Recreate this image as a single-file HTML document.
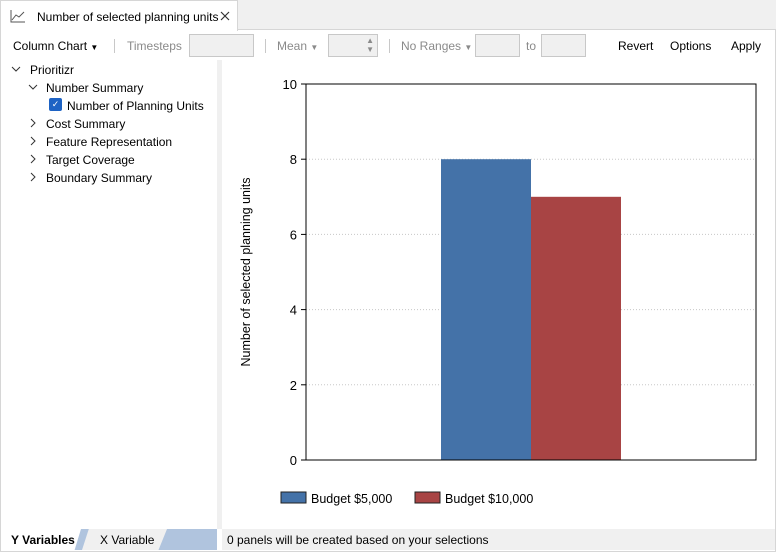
<!DOCTYPE html>
<html><head><meta charset="utf-8"><style>
*{box-sizing:border-box;margin:0;padding:0}
body{width:776px;height:552px;background:#f0f0f0;font-family:"Liberation Sans",sans-serif;font-size:12px;color:#000;position:relative;overflow:hidden}
.abs{position:absolute}
.tb{top:39px;font-size:12px}
.gray{color:#8a8a8a}
.box{border:1px solid #c8c8c8;background:#f0f0f0;height:23px;top:34px}
.sep{top:39px;width:1px;height:14px;background:#c8c8c8}
.tree{font-size:12px;position:absolute}
.chev{position:absolute}
</style></head><body>
<div class="abs" style="left:0;top:29px;width:776px;height:523px;background:#fff;border:1px solid #d6d6d6"></div>
<div class="abs" style="left:0;top:0;width:238px;height:31px;background:#fff;border:1px solid #d6d6d6;border-bottom:none">
 <svg class="abs" style="left:9px;top:8px" width="16" height="14"><polyline points="1,1 1,13 15,13" fill="none" stroke="#555"/><polyline points="2,11 6,6 9,8 14,3" fill="none" stroke="#555"/></svg>
 <span class="abs" style="left:36px;top:9px;font-size:12px">Number of selected planning units</span>
 <svg class="abs" style="left:219px;top:10px" width="10" height="10"><path d="M1,1L9,9M9,1L1,9" stroke="#333" stroke-width="1.2"/></svg>
</div>
<span class="abs tb" style="left:13px">Column Chart <span style="font-size:8px">▼</span></span>
<div class="abs sep" style="left:114px"></div>
<span class="abs tb gray" style="left:127px">Timesteps</span>
<div class="abs box" style="left:189px;width:65px"></div>
<div class="abs sep" style="left:265px"></div>
<span class="abs tb gray" style="left:277px">Mean <span style="font-size:8px">▼</span></span>
<div class="abs box" style="left:328px;width:50px"><span class="abs gray" style="right:3px;top:1px;font-size:8px;line-height:9px">▲<br>▼</span></div>
<div class="abs sep" style="left:389px"></div>
<span class="abs tb gray" style="left:401px">No Ranges <span style="font-size:8px">▼</span></span>
<div class="abs box" style="left:475px;width:45px"></div>
<span class="abs tb gray" style="left:526px">to</span>
<div class="abs box" style="left:541px;width:45px"></div>
<span class="abs tb" style="left:618px">Revert</span>
<span class="abs tb" style="left:670px">Options</span>
<span class="abs tb" style="left:731px">Apply</span>
<div class="abs" style="left:217px;top:60px;width:5px;height:469px;background:#f0f0f0"></div>
<svg class="chev" style="left:11px;top:66px" width="10" height="6"><polyline points="1,1 5,5 9,1" fill="none" stroke="#333"/></svg><span class="tree" style="left:30px;top:63px">Prioritizr</span>
<svg class="chev" style="left:28px;top:84px" width="10" height="6"><polyline points="1,1 5,5 9,1" fill="none" stroke="#333"/></svg><span class="tree" style="left:46px;top:81px">Number Summary</span>
<div class="abs" style="left:49px;top:98px;width:13px;height:13px;background:#1e63c4;border-radius:2px;color:#fff;font-size:9px;text-align:center;line-height:13px">✓</div>
<span class="tree" style="left:67px;top:99px">Number of Planning Units</span>
<svg class="chev" style="left:30px;top:118px" width="6" height="10"><polyline points="1,1 5,5 1,9" fill="none" stroke="#333"/></svg><span class="tree" style="left:46px;top:117px">Cost Summary</span>
<svg class="chev" style="left:30px;top:136px" width="6" height="10"><polyline points="1,1 5,5 1,9" fill="none" stroke="#333"/></svg><span class="tree" style="left:46px;top:135px">Feature Representation</span>
<svg class="chev" style="left:30px;top:154px" width="6" height="10"><polyline points="1,1 5,5 1,9" fill="none" stroke="#333"/></svg><span class="tree" style="left:46px;top:153px">Target Coverage</span>
<svg class="chev" style="left:30px;top:172px" width="6" height="10"><polyline points="1,1 5,5 1,9" fill="none" stroke="#333"/></svg><span class="tree" style="left:46px;top:171px">Boundary Summary</span>
<div class="abs" style="left:1px;top:529px;width:216px;height:21px;background:#b0c4de"></div>
<div class="abs" style="left:1px;top:529px;width:80px;height:21px;background:#fff;clip-path:polygon(0 0,100% 0,92% 100%,0 100%);font-weight:bold;padding:4px 0 0 10px">Y Variables</div>
<div class="abs" style="left:82px;top:529px;width:85px;height:21px;background:#f0f0f0;clip-path:polygon(8% 0,100% 0,90% 100%,0 100%);padding:4px 0 0 18px">X Variable</div>
<div class="abs" style="left:222px;top:529px;width:553px;height:21px;background:#f0f0f0;padding:4px 0 0 5px">0 panels will be created based on your selections</div>
<svg id="chart" class="abs" style="left:222px;top:60px" width="553" height="469"></svg>
<script>
const categories=["Number of Planning Units"];
const seriesNames=["Budget $5,000","Budget $10,000"];
const seriesValues=[[8],[7]];
const seriesColors=["#4472a8","#a84444"];
const yTicks=[0,2,4,6,8,10];
const ns="http://www.w3.org/2000/svg";
const svg=document.getElementById("chart");
const L=84,R=534,T=24,B=400,yMax=10;
const y=v=>B-(v/yMax)*(B-T);
function mk(t,a){const e=document.createElementNS(ns,t);for(const k in a)e.setAttribute(k,a[k]);svg.appendChild(e);return e;}
mk("rect",{x:L,y:T,width:R-L,height:B-T,fill:"#fff"});
yTicks.forEach(t=>{
 if(t>0&&t<yMax){const g=mk("line",{x1:L,x2:R,y1:y(t),y2:y(t),stroke:"#c8c8c8","stroke-dasharray":"1,2"});}
 mk("line",{x1:L-5,x2:L,y1:y(t),y2:y(t),stroke:"#000"});
 const tx=mk("text",{x:L-9,y:y(t)+5,"text-anchor":"end","font-size":"13","font-family":"Liberation Sans"});tx.textContent=t;
 
});
const groupW=(R-L)/categories.length, inner=groupW*0.4, bw=inner/seriesNames.length;
categories.forEach((c,i)=>{
 const x0=L+groupW*i+(groupW-inner)/2;
 seriesValues.forEach((s,j)=>{
  const r=mk("rect",{x:x0+j*bw,y:y(s[i]),width:bw,height:B-y(s[i]),fill:seriesColors[j]});
  
  
 });
});
mk("rect",{x:L,y:T,width:R-L,height:B-T,fill:"none",stroke:"#000"});
const yt=mk("text",{x:0,y:0,transform:`translate(28,${(T+B)/2}) rotate(-90)`,"text-anchor":"middle","font-size":"12.5","font-family":"Liberation Sans"});
yt.textContent="Number of selected planning units";


let lx=59;
seriesNames.forEach((n,j)=>{
 const r=mk("rect",{x:lx,y:432,width:25,height:11,fill:seriesColors[j],stroke:"#222"});
 
 
 const t=mk("text",{x:lx+30,y:443,"font-size":"12.5","font-family":"Liberation Sans"});t.textContent=n;
 
 
 lx+=134;
});
</script>
</body></html>
